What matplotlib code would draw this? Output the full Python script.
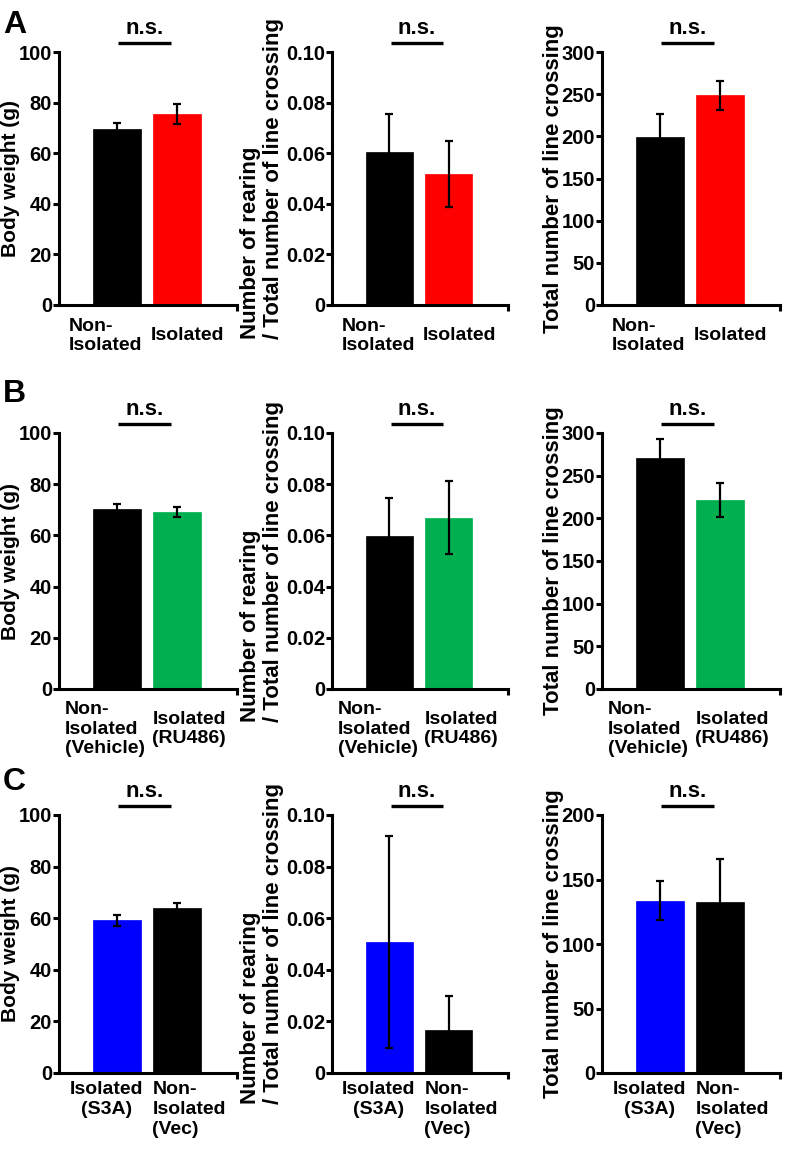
import matplotlib
matplotlib.use('Agg')
import matplotlib.pyplot as plt
import matplotlib.transforms as mtransforms

plt.rcParams['font.family'] = ['Liberation Sans', 'DejaVu Sans']
plt.rcParams['font.weight'] = 'bold'
plt.rcParams['axes.labelweight'] = 'bold'

# A: isolation vs non-isolation
a_groups = ['Non-\nIsolated', 'Isolated']
a_colors = ['black', '#ff0000']
a_weight = [69.6, 75.6]
a_weight_err = [2.2, 3.9]
a_rearing = [0.0603, 0.0518]
a_rearing_err = [0.0150, 0.0130]
a_cross = [199.5, 248.7]
a_cross_err = [26.4, 17.5]

# B: vehicle vs RU486
b_groups = ['Non-\nIsolated\n(Vehicle)', 'Isolated\n(RU486)']
b_colors = ['black', '#00b050']
b_weight = [70.4, 69.1]
b_weight_err = [2.0, 2.1]
b_rearing = [0.0597, 0.0669]
b_rearing_err = [0.0151, 0.0143]
b_cross = [270.4, 221.3]
b_cross_err = [22.6, 20.3]

# C: S3A vs vector
c_groups = ['Isolated\n(S3A)', 'Non-\nIsolated\n(Vec)']
c_colors = ['#0000ff', 'black']
c_weight = [59.2, 64.1]
c_weight_err = [2.1, 1.9]
c_rearing = [0.0509, 0.0165]
c_rearing_err = [0.0411, 0.0132]
c_cross = [133.7, 132.6]
c_cross_err = [14.9, 33.2]

ylabels = ['Body weight (g)',
           'Number of rearing\n/ Total number of line crossing',
           'Total number of line crossing']
weight_ticks = [0, 20, 40, 60, 80, 100]
rearing_ticks = [0, 0.02, 0.04, 0.06, 0.08, 0.10]
rearing_ticklabels = ['0', '0.02', '0.04', '0.06', '0.08', '0.10']
cross_ticks_ab = [0, 50, 100, 150, 200, 250, 300]
cross_ticks_c = [0, 50, 100, 150, 200]

rows = [
    dict(letter='A', groups=a_groups, colors=a_colors,
         data=[(a_weight, a_weight_err), (a_rearing, a_rearing_err), (a_cross, a_cross_err)],
         cross_ticks=cross_ticks_ab),
    dict(letter='B', groups=b_groups, colors=b_colors,
         data=[(b_weight, b_weight_err), (b_rearing, b_rearing_err), (b_cross, b_cross_err)],
         cross_ticks=cross_ticks_ab),
    dict(letter='C', groups=c_groups, colors=c_colors,
         data=[(c_weight, c_weight_err), (c_rearing, c_rearing_err), (c_cross, c_cross_err)],
         cross_ticks=cross_ticks_c),
]

# layout in pixels (figure 793 x 1151)
W, H = 793, 1151
row_px = [(52, 305), (433, 689), (815, 1073)]
col_px = [(59, 237), (332, 508), (602, 780)]
ylabel_px = [11, 262, 553]
ylabel_size = [15, 16, 16]
letter_base_px = [33, 402, 790]
# category label placement: (x of each label, ha, va, pixel offset below axis)
label_layout = [
    ([-0.80, 0.57], ['left', 'left'], 'center', 31),
    ([-0.87, 0.59], ['left', 'left'], 'center', 40),
    ([-0.18, 0.59], ['center', 'left'], 'top', 8),
]
label_ma = [['left', 'left'], ['left', 'left'], ['center', 'left']]

fig = plt.figure(figsize=(W / 100, H / 100), dpi=100)

for r, row in enumerate(rows):
    top, bot = row_px[r]
    fig.text(3 / W, 1 - letter_base_px[r] / H, row['letter'], fontsize=23,
             fontweight='bold', va='baseline', ha='left')
    for c in range(3):
        left, right = col_px[c]
        ax = fig.add_axes([left / W, 1 - bot / H, (right - left) / W, (bot - top) / H])
        vals, errs = row['data'][c]
        x = [0, 1]
        ax.bar(x, vals, width=0.8, color=row['colors'], edgecolor=row['colors'],
               linewidth=0.5, zorder=2)
        ax.errorbar(x, vals, yerr=errs, fmt='none', ecolor='black', elinewidth=1.6,
                    capsize=2.6, capthick=1.6, zorder=3)
        ax.set_xlim(-0.967, 2.0)
        if c == 0:
            ax.set_ylim(0, 100)
            ax.set_yticks(weight_ticks)
        elif c == 1:
            ax.set_ylim(0, 0.10)
            ax.set_yticks(rearing_ticks)
            ax.set_yticklabels(rearing_ticklabels)
        else:
            ticks = row['cross_ticks']
            ax.set_ylim(0, ticks[-1])
            ax.set_yticks(ticks)
        for s in ['top', 'right']:
            ax.spines[s].set_visible(False)
        for s in ['left', 'bottom']:
            ax.spines[s].set_linewidth(2.2)
        ax.tick_params(axis='y', direction='out', length=4, width=2.2,
                       labelsize=14.5, pad=1)
        ax.set_xticks([])
        ax.set_xticks([2.0], minor=True)
        ax.tick_params(axis='x', which='minor', direction='out', length=4, width=2.2,
                       labelbottom=False)
        for lab in ax.get_yticklabels():
            lab.set_fontweight('bold')

        ax.set_ylabel(ylabels[c], fontsize=ylabel_size[c], fontweight='bold',
                      multialignment='left', linespacing=1.1)
        ax.yaxis.label.set_va('center')
        ax.yaxis.set_label_coords((ylabel_px[c] - left) / (right - left), 0.5)

        trans = mtransforms.blended_transform_factory(ax.transData, ax.transAxes)
        axh = bot - top
        xs, has, va, off = label_layout[r]
        for i, g in enumerate(row['groups']):
            ax.text(xs[i], -off / axh, g, transform=trans, ha=has[i], va=va,
                    multialignment=label_ma[r][i], fontsize=14,
                    fontweight='bold', linespacing=1.22)

        # significance marker
        ax.plot([0.02, 0.90], [1 + 9 / axh, 1 + 9 / axh], transform=trans,
                color='black', lw=2.4, clip_on=False, solid_capstyle='butt')
        ax.text(0.46, 1 + 13 / axh, 'n.s.', transform=trans, ha='center',
                va='bottom', fontsize=16, fontweight='bold')

fig.savefig('out.png', dpi=100)
